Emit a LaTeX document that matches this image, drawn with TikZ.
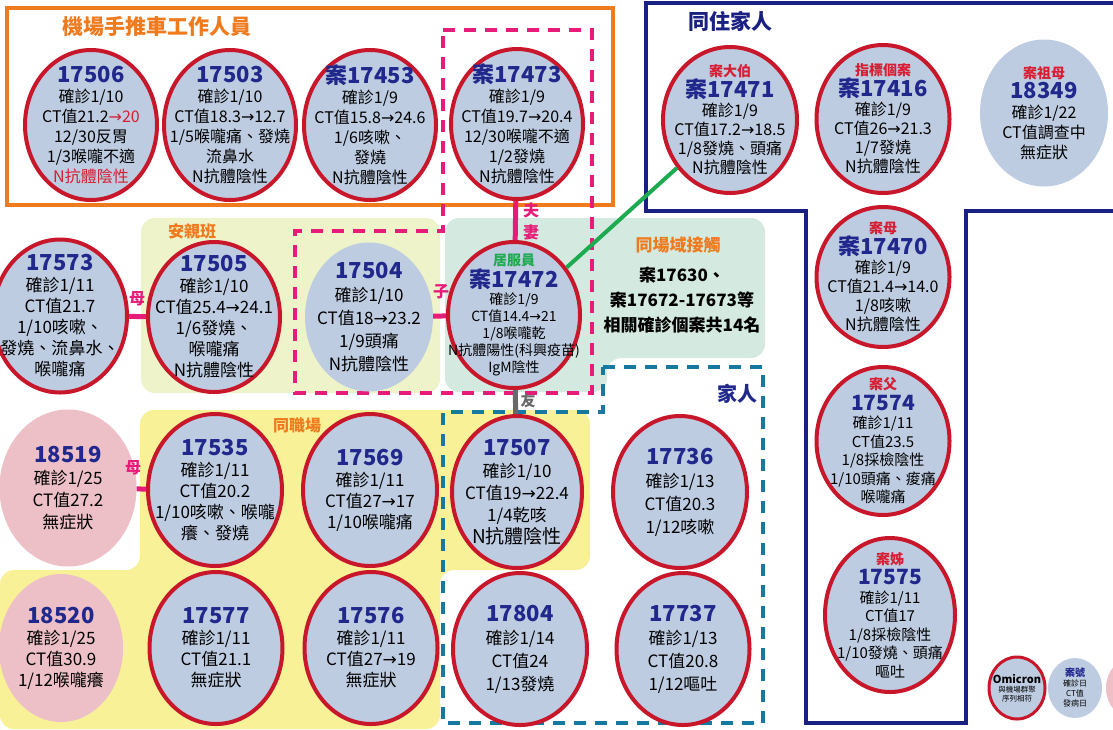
\documentclass[tikz,border=0pt]{standalone}
\usepackage{fontspec}
\setmainfont{Noto Sans CJK TC}
\newfontfamily\symfont{DejaVu Sans}
\usetikzlibrary{shapes.geometric}
\definecolor{ballblue}{RGB}{190,204,226}
\definecolor{ballred}{RGB}{200,22,42}
\definecolor{ballpink}{RGB}{236,192,198}
\definecolor{navyt}{RGB}{32,40,140}
\definecolor{navyline}{RGB}{26,32,130}
\definecolor{redtxt}{RGB}{215,30,50}
\definecolor{pinkc}{RGB}{230,28,120}
\definecolor{orangec}{RGB}{240,122,30}
\definecolor{tealc}{RGB}{22,122,160}
\definecolor{greenc}{RGB}{30,170,80}
\definecolor{grayc}{RGB}{105,105,105}
\definecolor{yellowbg}{RGB}{248,241,152}
\definecolor{limebg}{RGB}{238,243,202}
\definecolor{mintbg}{RGB}{212,234,224}
\newcommand\tto{{\symfont →}}
\newcommand\nr[1]{{\fontsize{22}{24}\selectfont\bfseries\color{navyt}#1}}
\newcommand\kin[1]{{\fontsize{14}{16}\selectfont\bfseries\color{redtxt}#1}}

\begin{document}
\begin{tikzpicture}[x=1pt, y=-1pt,
  ball/.style={ellipse, draw=ballred, line width=4, fill=ballblue, inner sep=0},
  plainball/.style={ellipse, fill=ballblue, inner sep=0},
  pinkball/.style={ellipse, fill=ballpink, inner sep=0},
  txt/.style={align=center, inner sep=0, font=\fontsize{16}{20}\selectfont},
  grp/.style={inner sep=0, font=\fontsize{16}{18}\selectfont\bfseries},
  tie/.style={line width=5, pinkc},
  tielabel/.style={inner sep=0, text=pinkc, font=\fontsize{16}{18}\selectfont\bfseries},
  pinkdash/.style={pinkc, line width=4, dash pattern=on 12pt off 9pt},
  tealdash/.style={tealc, line width=4, dash pattern=on 12pt off 9pt}]
\useasboundingbox (0,0) rectangle (1113,729);
\fill[white] (0,0) rectangle (1113,729);

% background areas
\fill[yellowbg, rounded corners=14] (140,410) -- (590,410) -- (590,570) -- (440,570)
  -- (440,729) -- (0,729) -- (0,570) -- (140,570) -- cycle;
\fill[limebg, rounded corners=14] (141,218) rectangle (440,393);
\fill[mintbg, rounded corners=14] (445,218) -- (765,218) -- (765,358) -- (607,358)
  -- (607,392) -- (445,392) -- cycle;

% outlines
\draw[orangec, line width=4] (7,8) rectangle (613,205);
\draw[navyline, line width=4] (646,211) -- (646,3) -- (1120,3) -- (1120,211) -- (966,211)
  -- (966,723) -- (806,723) -- (806,211) -- cycle;
\draw[pinkdash] (443,30) -- (592,30) -- (592,393) -- (295,393) -- (295,231) -- (443,231) -- cycle;
\draw[tealdash] (603,367) -- (763,367) -- (763,723) -- (443,723) -- (443,412) -- (603,412) -- cycle;

% group titles
\node[grp, text=orangec, font=\fontsize{21}{22}\selectfont\bfseries] (tcart) at (157,27) {機場手推車工作人員};
\node[grp, text=navyline, font=\fontsize{21}{22}\selectfont\bfseries] (thome) at (730,21) {同住家人};
\node[grp, text=orangec] (tclass) at (192,231) {安親班};
\node[grp, text=orangec] (twork) at (297,425) {同職場};
\node[grp, text=orangec, font=\fontsize{17}{18}\selectfont\bfseries] (tsite) at (678,245) {同場域接觸};
\node[txt, font=\fontsize{17}{25}\selectfont\bfseries] (tsitelist) at (682,300) {案17630、\\案17672-17673等\\相關確診個案共14名};
\node[grp, text=navyt, font=\fontsize{20}{22}\selectfont\bfseries] (tfam) at (737,394) {家人};

% cart workers
\node[ball, minimum width=132, minimum height=150] (c17506) at (91,125) {};
\node[txt] at (c17506) {\nr{17506}\\確診1/10\\CT值21.2{\color{redtxt}\tto20}\\12/30反胃\\1/3喉嚨不適\\{\color{redtxt}N抗體陰性}};
\node[ball, minimum width=132, minimum height=150] (c17503) at (230,125) {};
\node[txt] at (c17503) {\nr{17503}\\確診1/10\\CT值18.3\tto12.7\\1/5喉嚨痛、發燒\\流鼻水\\N抗體陰性};
\node[ball, minimum width=132, minimum height=150] (c17453) at (370,125) {};
\node[txt] at (c17453) {\nr{案17453}\\確診1/9\\CT值15.8\tto24.6\\1/6咳嗽、\\發燒\\N抗體陰性};
\node[ball, minimum width=132, minimum height=150] (c17473) at (517,124) {};
\node[txt] at (c17473) {\nr{案17473}\\確診1/9\\CT值19.7\tto20.4\\12/30喉嚨不適\\1/2發燒\\N抗體陰性};

% household
\node[ball, minimum width=134, minimum height=146] (c17471) at (730,120) {};
\node[txt, font=\fontsize{16}{19}\selectfont] at (c17471) {\kin{案大伯}\\\nr{案17471}\\確診1/9\\CT值17.2\tto18.5\\1/8發燒、頭痛\\N抗體陰性};
\node[ball, minimum width=133, minimum height=148] (c17416) at (883,119) {};
\node[txt, font=\fontsize{16}{19}\selectfont] at (c17416) {\kin{指標個案}\\\nr{案17416}\\確診1/9\\CT值26\tto21.3\\1/7發燒\\N抗體陰性};
\node[plainball, minimum width=128, minimum height=147] (c18349) at (1044,113) {};
\node[txt] at (c18349) {\kin{案祖母}\\\nr{18349}\\確診1/22\\CT值調查中\\無症狀};
\node[ball, minimum width=133, minimum height=140] (c17470) at (883,277) {};
\node[txt, font=\fontsize{16}{19}\selectfont] at (c17470) {\kin{案母}\\\nr{案17470}\\確診1/9\\CT值21.4\tto14.0\\1/8咳嗽\\N抗體陰性};
\node[ball, minimum width=133, minimum height=148] (c17574) at (883,441) {};
\node[txt, font=\fontsize{15}{18.5}\selectfont] at (c17574) {\kin{案父}\\[2pt]{\fontsize{21}{22}\selectfont\bfseries\color{navyt}17574}\\確診1/11\\CT值23.5\\1/8採檢陰性\\1/10頭痛、痠痛\\喉嚨痛};
\node[ball, minimum width=130, minimum height=154] (c17575) at (890,615) {};
\node[txt, font=\fontsize{15}{18.5}\selectfont] at (c17575) {\kin{案姊}\\[2pt]{\fontsize{21}{22}\selectfont\bfseries\color{navyt}17575}\\確診1/11\\CT值17\\1/8採檢陰性\\1/10發燒、頭痛\\嘔吐};

% second row
\node[ball, minimum width=134, minimum height=153] (c17573) at (60,316) {};
\node[txt, font=\fontsize{17}{21}\selectfont] at (c17573) {\nr{17573}\\確診1/11\\CT值21.7\\1/10咳嗽、\\發燒、流鼻水、\\喉嚨痛};
\node[ball, minimum width=132, minimum height=150] (c17505) at (214,317) {};
\node[txt, font=\fontsize{17}{21}\selectfont] at (c17505) {\nr{17505}\\確診1/10\\CT值25.4\tto24.1\\1/6發燒、\\喉嚨痛\\N抗體陰性};
\node[plainball, minimum width=128, minimum height=149] (c17504) at (369,317) {};
\node[txt, font=\fontsize{17}{23}\selectfont] at (c17504) {\nr{17504}\\確診1/10\\CT值18\tto23.2\\1/9頭痛\\N抗體陰性};
\node[ball, minimum width=132, minimum height=146] (c17472) at (514,315) {};
\node[txt, font=\fontsize{14}{17}\selectfont] at (c17472) {{\fontsize{14}{16}\selectfont\bfseries\color{greenc}居服員}\\\nr{案17472}\\確診1/9\\CT值14.4\tto21\\1/8喉嚨乾\\N抗體陽性(科興疫苗)\\IgM陰性};

% third row
\node[pinkball, minimum width=137, minimum height=157] (c18519) at (68,488) {};
\node[txt, font=\fontsize{17}{22}\selectfont] at (c18519) {\nr{18519}\\確診1/25\\CT值27.2\\無症狀};
\node[ball, minimum width=134, minimum height=152] (c17535) at (215,490) {};
\node[txt, font=\fontsize{17}{21}\selectfont] at (c17535) {\nr{17535}\\確診1/11\\CT值20.2\\1/10咳嗽、喉嚨\\癢、發燒};
\node[ball, minimum width=134, minimum height=152] (c17569) at (370,490) {};
\node[txt, font=\fontsize{17}{21}\selectfont] at (c17569) {\nr{17569}\\確診1/11\\CT值27\tto17\\1/10喉嚨痛};
\node[ball, minimum width=130, minimum height=152] (c17507) at (517,492) {};
\node[txt, font=\fontsize{17}{22}\selectfont] at (c17507) {\nr{17507}\\確診1/10\\CT值19\tto22.4\\1/4乾咳\\{\fontsize{19}{22}\selectfont N抗體陰性}};
\node[ball, minimum width=134, minimum height=152] (c17736) at (680,492) {};
\node[txt, font=\fontsize{17}{23}\selectfont] at (c17736) {\nr{17736}\\確診1/13\\CT值20.3\\1/12咳嗽};

% fourth row
\node[pinkball, minimum width=124, minimum height=148] (c18520) at (61,648) {};
\node[txt, font=\fontsize{17}{21}\selectfont] at (c18520) {\nr{18520}\\確診1/25\\CT值30.9\\1/12喉嚨癢};
\node[ball, minimum width=133, minimum height=152] (c17577) at (216,648) {};
\node[txt, font=\fontsize{17}{21}\selectfont] at (c17577) {\nr{17577}\\確診1/11\\CT值21.1\\無症狀};
\node[ball, minimum width=133, minimum height=152] (c17576) at (371,648) {};
\node[txt, font=\fontsize{17}{21}\selectfont] at (c17576) {\nr{17576}\\確診1/11\\CT值27\tto19\\無症狀};
\node[ball, minimum width=134, minimum height=152] (c17804) at (520,649) {};
\node[txt, font=\fontsize{17}{23}\selectfont] at (c17804) {\nr{17804}\\確診1/14\\CT值24\\1/13發燒};
\node[ball, minimum width=133, minimum height=152] (c17737) at (683,649) {};
\node[txt, font=\fontsize{17}{23}\selectfont] at (c17737) {\nr{17737}\\確診1/13\\CT值20.8\\1/12嘔吐};

% links
\draw[tie] (c17473) -- (c17472);
\node[tielabel] (lhus) at (531,210) {夫};
\node[tielabel] (lwif) at (531,232) {妻};
\draw[line width=4, greenc] (c17472) -- (c17471);
\draw[tie] (c17504) -- (c17472);
\node[tielabel] (lson) at (441,292) {子};
\draw[tie] (c17573) -- (c17505);
\node[tielabel] (lmom) at (137,299) {母};
\draw[tie] (c18519) -- (c17535);
\node[tielabel] (lmom2) at (133,468) {母};
\draw[line width=5, grayc] (c17472) -- (c17507);
\node[tielabel, text=grayc, font=\fontsize{15}{16}\selectfont\bfseries] (lfri) at (528,401) {友};

% legend
\node[ball, line width=3, minimum width=56, minimum height=62] (lgomi) at (1017,688) {};
\node[txt, font=\fontsize{7.5}{9}\selectfont] at (lgomi) {{\fontsize{11}{12}\selectfont\bfseries Omicron}\\與機場群聚\\序列相符};
\node[plainball, minimum width=54, minimum height=60] (lgcase) at (1075,688) {};
\node[txt, font=\fontsize{8}{10}\selectfont] at (lgcase) {{\fontsize{10}{12}\selectfont\bfseries\color{navyt}案號}\\確診日\\CT值\\發病日};
\node[pinkball, minimum width=56, minimum height=62] (lgpink) at (1134,688) {};
\end{tikzpicture}
\end{document}
